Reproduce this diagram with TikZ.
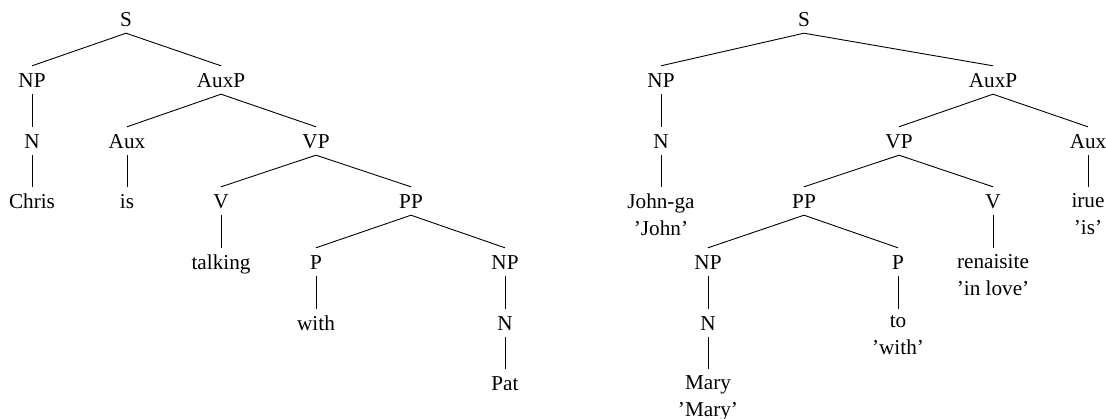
\documentclass[tikz,border=0pt]{standalone}
\usepackage{fontspec}
\setmainfont{Liberation Serif}
\usepackage{tikz}
\usetikzlibrary{positioning}

\begin{document}
\begin{tikzpicture}[
        x=1pt, y=-1pt,
        every node/.style={font=\fontsize{21.2}{27}\selectfont},
        cat/.style={inner xsep=1pt, inner ysep=7pt, text height=14pt, text depth=0pt},
        leaf/.style={anchor=north, inner xsep=1pt, inner ysep=6.5pt, align=center},
        branch/.style={line width=0.9pt}
    ]
    \useasboundingbox (0, 0) rectangle (1106, 418);

    % --- Tree 1: English ---
    \node[cat] (s1) at (126, 19) {S};
    \node[cat] (np1) at (32, 80) {NP};
    \node[cat] (auxp1) at (221, 80) {AuxP};
    \node[cat] (n1) at (32, 141) {N};
    \node[cat] (aux1) at (127, 141) {Aux};
    \node[cat] (vp1) at (316, 141) {VP};
    \node[cat] (chris) at (32, 201) {Chris};
    \node[cat] (is) at (127, 201) {is};
    \node[cat] (v1) at (221, 201) {V};
    \node[cat] (pp1) at (411, 201) {PP};
    \node[cat] (talking) at (221, 262) {talking};
    \node[cat] (p1) at (316, 262) {P};
    \node[cat] (np2) at (505, 262) {NP};
    \node[cat] (with) at (316, 323) {with};
    \node[cat] (n2) at (505, 323) {N};
    \node[cat] (pat) at (505, 383) {Pat};

    \draw[branch] (s1.south) -- (np1.north);
    \draw[branch] (s1.south) -- (auxp1.north);
    \draw[branch] (np1.south) -- (n1.north);
    \draw[branch] (n1.south) -- (chris.north);
    \draw[branch] (auxp1.south) -- (aux1.north);
    \draw[branch] (auxp1.south) -- (vp1.north);
    \draw[branch] (aux1.south) -- (is.north);
    \draw[branch] (vp1.south) -- (v1.north);
    \draw[branch] (vp1.south) -- (pp1.north);
    \draw[branch] (v1.south) -- (talking.north);
    \draw[branch] (pp1.south) -- (p1.north);
    \draw[branch] (pp1.south) -- (np2.north);
    \draw[branch] (p1.south) -- (with.north);
    \draw[branch] (np2.south) -- (n2.north);
    \draw[branch] (n2.south) -- (pat.north);

    % --- Tree 2: Japanese ---
    \node[cat] (s2) at (804, 19) {S};
    \node[cat] (np3) at (661, 80) {NP};
    \node[cat] (auxp2) at (993, 80) {AuxP};
    \node[cat] (n3) at (661, 141) {N};
    \node[cat] (vp2) at (899, 141) {VP};
    \node[cat] (aux2) at (1088, 141) {Aux};
    \node[leaf] (johnga) at (661, 187) {John-ga\\'John'};
    \node[cat] (pp2) at (804, 201) {PP};
    \node[cat] (v2) at (993, 201) {V};
    \node[leaf] (irue) at (1088, 187) {irue\\'is'};
    \node[cat] (np4) at (708, 262) {NP};
    \node[cat] (p2) at (898, 262) {P};
    \node[leaf] (renaisite) at (993, 248) {renaisite\\'in love'};
    \node[cat] (n4) at (708, 323) {N};
    \node[leaf] (to) at (898, 309) {to\\'with'};
    \node[leaf] (mary) at (708, 369) {Mary\\'Mary'};

    \draw[branch] (s2.south) -- (np3.north);
    \draw[branch] (s2.south) -- (auxp2.north);
    \draw[branch] (np3.south) -- (n3.north);
    \draw[branch] (n3.south) -- (johnga.north);
    \draw[branch] (auxp2.south) -- (vp2.north);
    \draw[branch] (auxp2.south) -- (aux2.north);
    \draw[branch] (aux2.south) -- (irue.north);
    \draw[branch] (vp2.south) -- (pp2.north);
    \draw[branch] (vp2.south) -- (v2.north);
    \draw[branch] (v2.south) -- (renaisite.north);
    \draw[branch] (pp2.south) -- (np4.north);
    \draw[branch] (pp2.south) -- (p2.north);
    \draw[branch] (np4.south) -- (n4.north);
    \draw[branch] (n4.south) -- (mary.north);
    \draw[branch] (p2.south) -- (to.north);

\end{tikzpicture}
\end{document}
